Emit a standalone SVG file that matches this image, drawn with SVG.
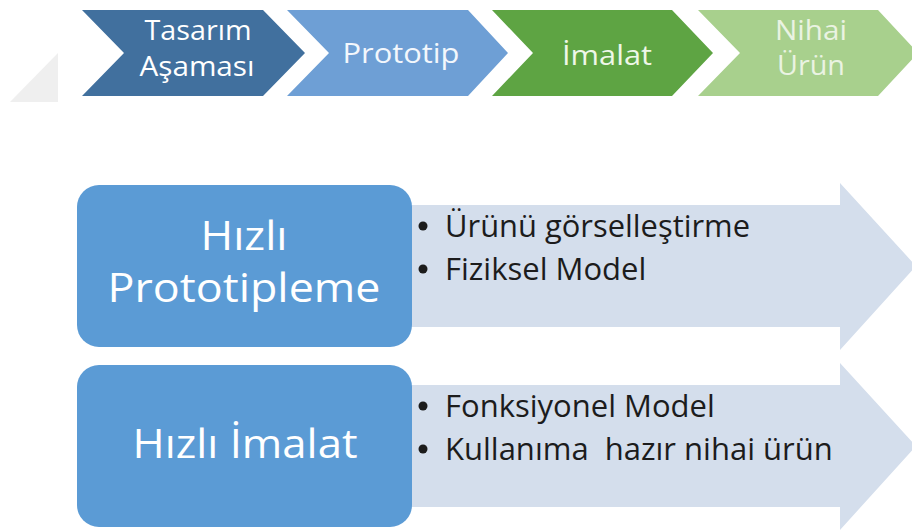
<svg xmlns="http://www.w3.org/2000/svg" width="912" height="531" viewBox="0 0 912 531">
<style>
  .t{font-family:"Open Sans","Noto Sans","Liberation Sans",sans-serif;}
  .top{font-size:27px;text-anchor:middle;}
  .big{font-size:41px;fill:#ffffff;text-anchor:middle;}
  .bul{font-size:31px;fill:#1c1c1c;white-space:pre;}
  .dot{fill:#1c1c1c;}
  .box{fill:#5b9bd5;}
  .arr{fill:#d4deec;}
</style>
<rect width="912" height="531" fill="#ffffff"/>
<polygon points="10,102 58,53 58,102" fill="#efefef"/>

<g id="step1">
  <polygon points="82,10 263,10 305,53 263,96 82,96 124,53" fill="#41709e"/>
  <text class="t top" x="198" y="40" fill="#ffffff" textLength="107" lengthAdjust="spacingAndGlyphs">Tasarım</text>
  <text class="t top" x="197" y="76" fill="#ffffff" textLength="115" lengthAdjust="spacingAndGlyphs">Aşaması</text>
</g>
<g id="step2">
  <polygon points="287,10 468,10 508,53 468,96 287,96 329,53" fill="#6e9fd5"/>
  <text class="t top" x="401" y="63" fill="#f3f7fc" font-size="29" textLength="117" lengthAdjust="spacingAndGlyphs">Prototip</text>
</g>
<g id="step3">
  <polygon points="492,10 672,10 713,53 672,96 492,96 533,53" fill="#5ea443"/>
  <text class="t top" x="607" y="65" fill="#eef7e8" font-size="29" textLength="90" lengthAdjust="spacingAndGlyphs">İmalat</text>
</g>
<g id="step4">
  <polygon points="698,10 878,10 918,53 878,96 698,96 740,53" fill="#a8d08d"/>
  <text class="t top" x="811" y="40" fill="#eaf3e2" textLength="72" lengthAdjust="spacingAndGlyphs">Nihai</text>
  <text class="t top" x="811" y="75" fill="#eaf3e2" textLength="68" lengthAdjust="spacingAndGlyphs">Ürün</text>
</g>

<g id="connectors">
  <polygon class="arr" points="395,205 840,205 840,183 916,266 840,350 840,327 395,327"/>
  <polygon class="arr" points="395,385 840,385 840,363 916,446 840,530 840,507 395,507"/>
</g>

<g id="rp">
  <rect class="box" x="77" y="185" width="335" height="162" rx="22"/>
  <text class="t big" x="244" y="250" font-size="38" textLength="87" lengthAdjust="spacingAndGlyphs">Hızlı</text>
  <text class="t big" x="244" y="302" font-size="38" textLength="273" lengthAdjust="spacingAndGlyphs">Prototipleme</text>
</g>
<g id="rp-items">
  <circle class="dot" cx="423" cy="226" r="4.5"/>
  <text class="t bul" x="445" y="237" textLength="305" lengthAdjust="spacingAndGlyphs">Ürünü görselleştirme</text>
  <circle class="dot" cx="423" cy="269" r="4.5"/>
  <text class="t bul" x="445" y="280">Fiziksel Model</text>
</g>

<g id="rm">
  <rect class="box" x="77" y="365" width="335" height="162" rx="22"/>
  <text class="t big" x="245" y="458" textLength="225" lengthAdjust="spacingAndGlyphs">Hızlı İmalat</text>
</g>
<g id="rm-items">
  <circle class="dot" cx="423" cy="406" r="4.5"/>
  <text class="t bul" x="445" y="417">Fonksiyonel Model</text>
  <circle class="dot" cx="423" cy="449" r="4.5"/>
  <text class="t bul" x="445" y="460" xml:space="preserve">Kullanıma  hazır nihai ürün</text>
</g>
</svg>
